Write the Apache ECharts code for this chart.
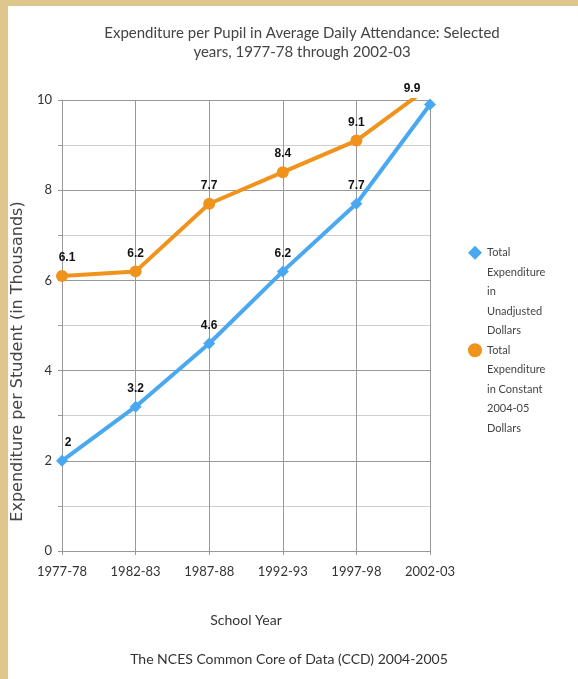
<!DOCTYPE html>
<html><head><meta charset="utf-8">
<script src="https://cdn.jsdelivr.net/npm/echarts@6/dist/echarts.min.js"></script>
<style>html,body{margin:0;padding:0;background:#fff}#c{width:578px;height:679px}</style>
</head><body><div id="c"></div>
<script>
var categories = ['1977-78','1982-83','1987-88','1992-93','1997-98','2002-03'];
var unadjusted = [2, 3.2, 4.6, 6.2, 7.7, 9.9];
var constant2004 = [6.1, 6.2, 7.7, 8.4, 9.1, 10.3];
var seriesNames = ['Total\nExpenditure\nin\nUnadjusted\nDollars','Total\nExpenditure\nin Constant\n2004-05\nDollars'];
var yTicks = [0, 2, 4, 6, 8, 10];

var chart = echarts.init(document.getElementById('c'));
var fontMain = 'Lato, "Open Sans", sans-serif';
var labelFont = '"Liberation Sans Narrow", "Liberation Sans", sans-serif';
var legendLineH = 19.5;

var blueData = unadjusted.map(function(v, i){
  var d = {value: v};
  if (i === 0) d.label = {offset: [6, 0]};
  if (i === unadjusted.length - 1) d.label = {offset: [-18, 2]};
  return d;
});
var orangeData = constant2004.map(function(v, i){
  var d = {value: v};
  if (i === 0) d.label = {offset: [5, 0]};
  if (v > 10) d.label = {show: false};
  return d;
});

chart.setOption({
  backgroundColor: '#ffffff',
  animation: false,
  graphic: [
    {type: 'rect', left: 0, top: 0, shape: {width: 8, height: 679}, style: {fill: '#dfc68c'}},
    {type: 'rect', left: 0, top: 0, shape: {width: 578, height: 6}, style: {fill: '#dfc68c'}},
    {type: 'text', left: 'center', top: 652, style: {text: 'The NCES Common Core of Data (CCD) 2004-2005', font: '14px ' + fontMain, fill: '#333'}}
  ],
  title: {
    text: 'Expenditure per Pupil in Average Daily Attendance: Selected\nyears, 1977-78 through 2002-03',
    left: 297, textAlign: 'center', top: 19,
    textStyle: {fontFamily: fontMain, fontSize: 15, fontWeight: 'normal', color: '#444', lineHeight: 19}
  },
  legend: {
    orient: 'vertical', left: 463, top: 160, itemGap: -4 * legendLineH,
    itemWidth: 14, itemHeight: 14,
    data: [{name: seriesNames[0], icon: 'diamond'}, {name: seriesNames[1], icon: 'circle'}],
    formatter: function(name){ return '\n\n\n\n' + name; },
    textStyle: {fontFamily: fontMain, fontSize: 11, color: '#444', lineHeight: legendLineH}
  },
  grid: {left: 62, right: 148, top: 100, bottom: 128},
  xAxis: {
    type: 'category', data: categories, boundaryGap: false,
    name: 'School Year', nameLocation: 'middle', nameGap: 62,
    nameTextStyle: {fontFamily: fontMain, fontSize: 14, color: '#333'},
    axisLine: {lineStyle: {color: '#999', width: 1}},
    axisTick: {show: true, length: 4, lineStyle: {color: '#999'}},
    axisLabel: {fontFamily: fontMain, fontSize: 13, color: '#333', margin: 14},
    splitLine: {show: true, lineStyle: {color: '#999', width: 1}}
  },
  yAxis: {
    type: 'value', min: 0, max: 10, interval: 1,
    name: 'Expenditure per Student (in Thousands)', nameLocation: 'middle', nameGap: 30,
    nameTextStyle: {fontFamily: '"DejaVu Sans", sans-serif', fontSize: 16, color: '#444', padding: [0, 72, 0, 0]},
    axisLine: {show: true, lineStyle: {color: '#999'}},
    axisTick: {show: true, length: 4, lineStyle: {color: '#999'}},
    axisLabel: {fontFamily: fontMain, fontSize: 13, color: '#333', margin: 10,
      formatter: function(v){ return yTicks.indexOf(v) >= 0 ? String(v) : ''; }},
    splitLine: {show: true, lineStyle: {color: ['#999', '#cfcfcf'], width: 1}}
  },
  series: [
    {
      name: seriesNames[0], type: 'line', data: blueData, clip: true,
      symbol: 'diamond', symbolSize: 12,
      lineStyle: {color: '#4aa8f0', width: 4},
      itemStyle: {color: '#4aa8f0'},
      label: {show: true, position: 'top', distance: 6, fontFamily: labelFont, fontWeight: 'bold', fontSize: 12, color: '#111'},
      z: 3
    },
    {
      name: seriesNames[1], type: 'line', data: orangeData, clip: true,
      symbol: 'circle', symbolSize: 12,
      lineStyle: {color: '#f0931c', width: 4},
      itemStyle: {color: '#f0931c'},
      label: {show: true, position: 'top', distance: 6, fontFamily: labelFont, fontWeight: 'bold', fontSize: 12, color: '#111'},
      z: 2
    }
  ]
});
</script></body></html>
